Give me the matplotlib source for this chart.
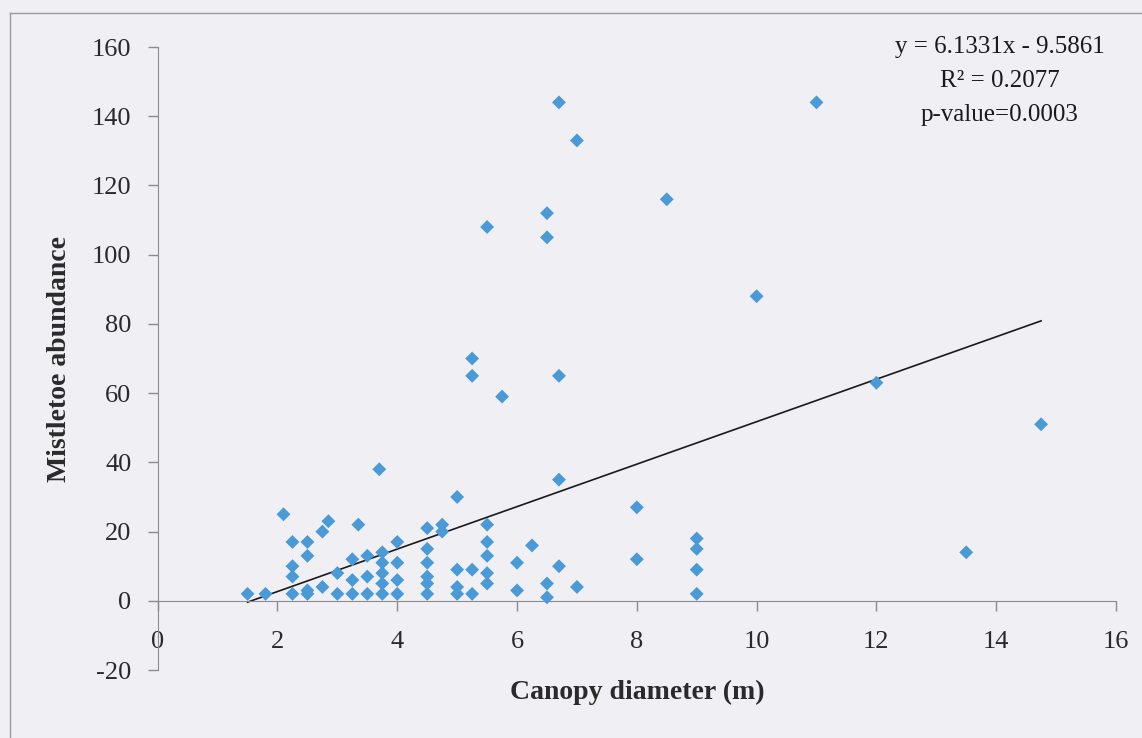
import matplotlib
matplotlib.use("Agg")
import matplotlib.pyplot as plt
from matplotlib.lines import Line2D
import numpy as np

# ---- data ----
canopy_diameter = [1.5, 1.8, 2.1,
                   2.25, 2.25, 2.25, 2.25,
                   2.5, 2.5, 2.5, 2.5,
                   2.75, 2.75, 2.85,
                   3.0, 3.0,
                   3.25, 3.25, 3.25, 3.35,
                   3.5, 3.5, 3.5,
                   3.7, 3.75, 3.75, 3.75, 3.75, 3.75,
                   4.0, 4.0, 4.0, 4.0,
                   4.5, 4.5, 4.5, 4.5, 4.5, 4.5,
                   4.75, 4.75,
                   5.0, 5.0, 5.0, 5.0,
                   5.25, 5.25, 5.25, 5.25,
                   5.5, 5.5, 5.5, 5.5, 5.5, 5.5,
                   5.75, 6.0, 6.0, 6.25,
                   6.5, 6.5, 6.5, 6.5,
                   6.7, 6.7, 6.7, 6.7,
                   7.0, 7.0,
                   8.0, 8.0, 8.5,
                   9.0, 9.0, 9.0, 9.0,
                   10.0, 11.0, 12.0, 13.5, 14.75]
mistletoe_abundance = [2, 2, 25,
                       17, 10, 7, 2,
                       17, 13, 3, 2,
                       4, 20, 23,
                       8, 2,
                       12, 6, 2, 22,
                       13, 7, 2,
                       38, 14, 11, 8, 5, 2,
                       17, 11, 6, 2,
                       21, 15, 11, 7, 5, 2,
                       22, 20,
                       30, 9, 4, 2,
                       70, 65, 9, 2,
                       108, 22, 17, 13, 8, 5,
                       59, 11, 3, 16,
                       112, 105, 5, 1,
                       144, 65, 35, 10,
                       133, 4,
                       27, 12, 116,
                       18, 15, 9, 2,
                       88, 144, 63, 14, 51]
trend_slope = 6.1331
trend_intercept = -9.5861
annotation_lines = ["y = 6.1331x - 9.5861", "R² = 0.2077", "p-value=0.0003"]
x_ticks = [0, 2, 4, 6, 8, 10, 12, 14, 16]
y_ticks = [-20, 0, 20, 40, 60, 80, 100, 120, 140, 160]
x_label = "Canopy diameter (m)"
y_label = "Mistletoe abundance"

# ---- figure ----
bg = "#efeff4"
plt.rcParams["font.family"] = ["Liberation Serif", "DejaVu Serif"]
plt.rcParams["axes.unicode_minus"] = False
fig = plt.figure(figsize=(11.42, 7.38), dpi=100, facecolor=bg)
ax = fig.add_axes([0.1381, 0.0921, 0.8391, 0.8442])
ax.set_facecolor("none")

ax.scatter(canopy_diameter, mistletoe_abundance, marker="D", s=50,
           color="#4a9ad8", edgecolors="none", zorder=3)

xs = np.array([min(canopy_diameter), max(canopy_diameter)])
ax.plot(xs, trend_slope * xs + trend_intercept, color="#1a1a1a", lw=1.2, zorder=2)

ax.set_xlim(x_ticks[0], x_ticks[-1])
ax.set_ylim(y_ticks[0], y_ticks[-1])
ax.set_xticks(x_ticks)
ax.set_yticks(y_ticks)

spine_col = "#8c8c8c"
for s in ["top", "right"]:
    ax.spines[s].set_visible(False)
ax.spines["bottom"].set_position(("data", 0))
ax.spines["bottom"].set_color(spine_col)
ax.spines["left"].set_color(spine_col)
ax.tick_params(axis="both", colors=spine_col, labelcolor="#2a2a2a",
               labelsize=19, length=7, width=1, direction="out")
ax.tick_params(axis="x", pad=15)
ax.tick_params(axis="y", pad=12)

ax.set_xlabel(x_label, fontsize=20, fontweight="bold", color="#2a2a2a")
ax.xaxis.set_label_coords(0.5, -0.015)
ax.set_ylabel(y_label, fontsize=20, fontweight="bold", color="#2a2a2a")
ax.yaxis.set_label_coords(-0.089, 0.5)

fig.text(1000 / 1142, 1 - 36 / 738, "\n".join(annotation_lines), ha="center",
         va="top", multialignment="center", fontsize=18, color="#1a1a1a",
         linespacing=1.72)

# outer chart-area frame (left and top edges visible)
fig.add_artist(Line2D([10 / 1142, 10 / 1142], [0, 1 - 13 / 738],
                      transform=fig.transFigure, color="#9a9a9a", lw=1))
fig.add_artist(Line2D([10 / 1142, 1], [1 - 13 / 738, 1 - 13 / 738],
                      transform=fig.transFigure, color="#9a9a9a", lw=1))

fig.savefig("out.png", dpi=100, facecolor=bg)
